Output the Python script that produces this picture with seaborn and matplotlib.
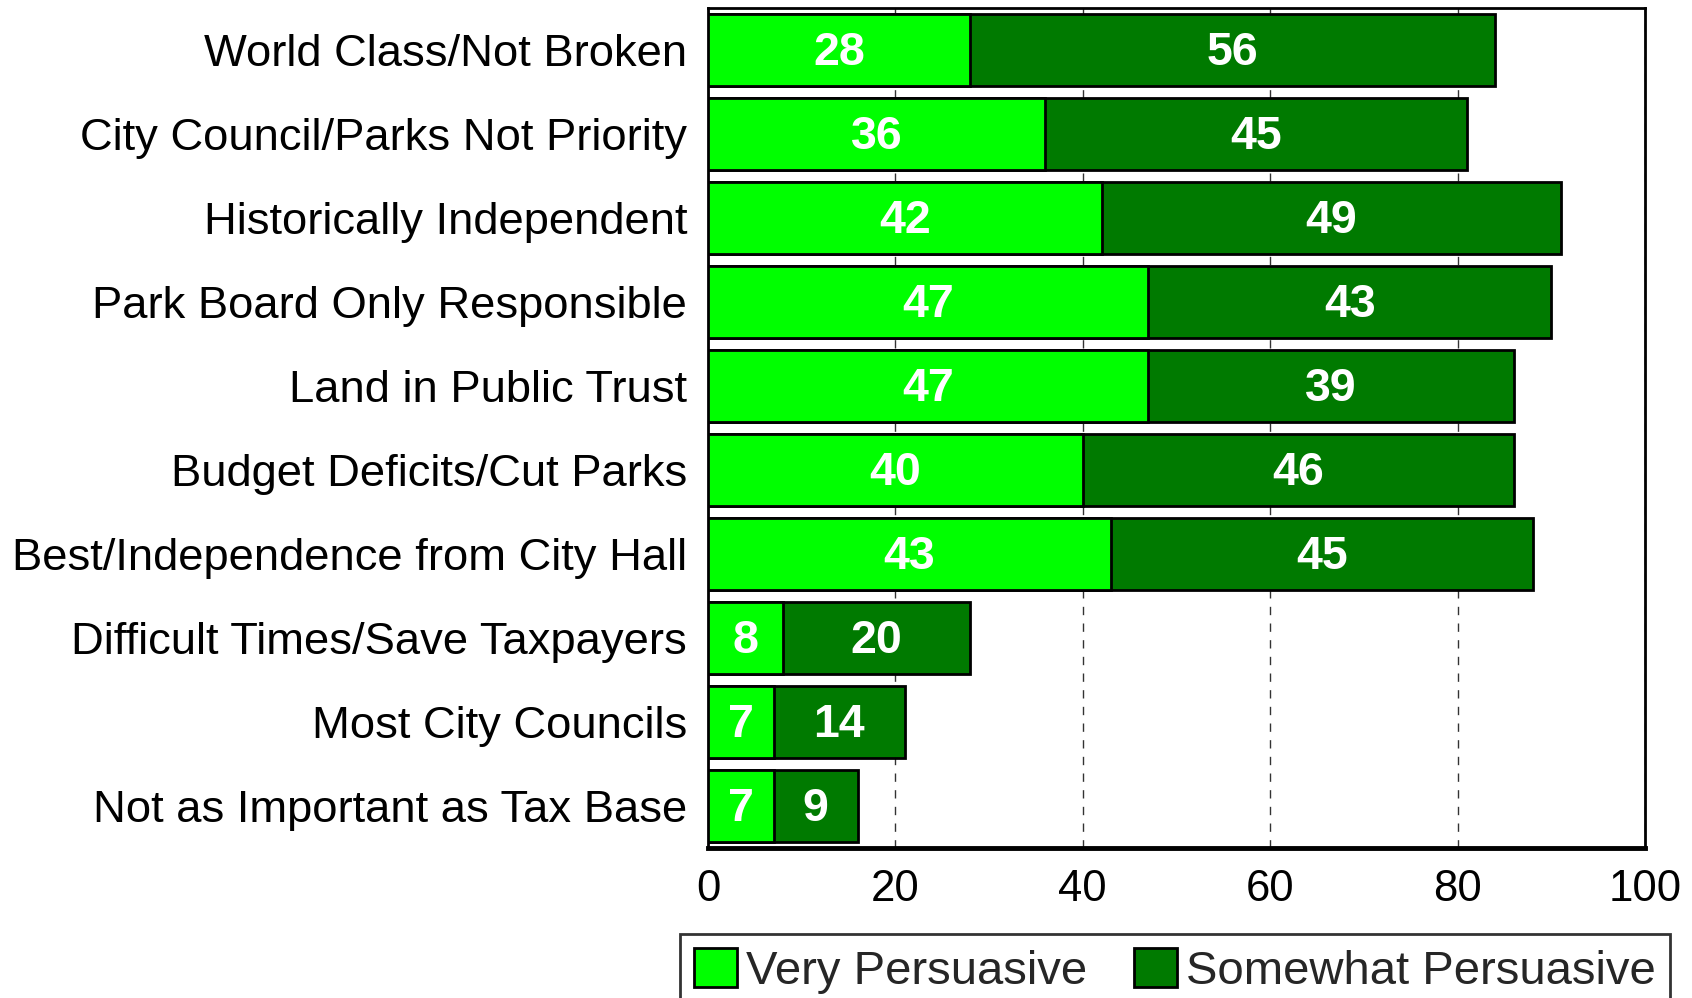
import matplotlib
matplotlib.use("Agg")
import matplotlib.pyplot as plt
import seaborn as sns
import pandas as pd
from matplotlib.patches import Patch

categories = [
    "World Class/Not Broken",
    "City Council/Parks Not Priority",
    "Historically Independent",
    "Park Board Only Responsible",
    "Land in Public Trust",
    "Budget Deficits/Cut Parks",
    "Best/Independence from City Hall",
    "Difficult Times/Save Taxpayers",
    "Most City Councils",
    "Not as Important as Tax Base",
]
very = [28, 36, 42, 47, 47, 40, 43, 8, 7, 7]
somewhat = [56, 45, 49, 43, 39, 46, 45, 20, 14, 9]
xticks = [0, 20, 40, 60, 80, 100]
series_names = ["Very Persuasive", "Somewhat Persuasive"]

light = "#00FF00"
dark = "#007A00"

sns.set_theme(style="white")
plt.rcParams["font.family"] = ["Liberation Sans", "DejaVu Sans"]

df = pd.DataFrame({"cat": categories, "very": very, "somewhat": somewhat})
df["total"] = df["very"] + df["somewhat"]

fig = plt.figure(figsize=(16.92, 9.98), dpi=100)
ax = fig.add_axes([708 / 1692, 1 - 848 / 998, (1645 - 708) / 1692, (848 - 8) / 998])

sns.barplot(data=df, x="total", y="cat", orient="h", color=dark, saturation=1,
            edgecolor="black", linewidth=2, width=0.85, ax=ax, zorder=3)
sns.barplot(data=df, x="very", y="cat", orient="h", color=light, saturation=1,
            edgecolor="black", linewidth=2, width=0.85, ax=ax, zorder=4)

for i, (v, s) in enumerate(zip(very, somewhat)):
    ax.text(v / 2, i + 0.04, str(v), ha="center", va="center", color="white",
            fontsize=33.5, fontweight="bold", zorder=5)
    ax.text(v + s / 2, i + 0.04, str(s), ha="center", va="center", color="white",
            fontsize=33.5, fontweight="bold", zorder=5)

ax.set_xlim(0, 100)
ax.set_ylim(9.5, -0.5)
ax.set_xticks(xticks)
ax.set_xticklabels([str(t) for t in xticks], fontsize=31.5)
ax.set_xlabel("")
ax.set_ylabel("")
ax.tick_params(axis="x", length=0, pad=15, colors="black")
ax.tick_params(axis="y", length=0, pad=15, labelsize=32.7, colors="black")
for lab in ax.get_yticklabels():
    lab.set_color("black")

ax.set_axisbelow(True)
ax.xaxis.grid(True, linestyle=(0, (6, 6)), color="#333333", linewidth=1.0)
ax.yaxis.grid(False)

for side in ["left", "top", "right"]:
    ax.spines[side].set_color("black")
    ax.spines[side].set_linewidth(2)
    ax.spines[side].set_visible(True)
ax.spines["bottom"].set_color("black")
ax.spines["bottom"].set_linewidth(3.5)

handles = [Patch(facecolor=light, edgecolor="black", linewidth=2),
           Patch(facecolor=dark, edgecolor="black", linewidth=2)]
leg = fig.legend(handles, series_names, loc="upper left",
                 bbox_to_anchor=(680 / 1692, 1 - 934 / 998),
                 bbox_transform=fig.transFigure,
                 ncol=2, fontsize=34, frameon=True, fancybox=False,
                 edgecolor="black", handlelength=0.9, handleheight=0.9,
                 handletextpad=0.2, columnspacing=1.0, borderpad=0.3,
                 borderaxespad=0)
leg.get_frame().set_linewidth(2)

fig.savefig("out.png", dpi=100)
